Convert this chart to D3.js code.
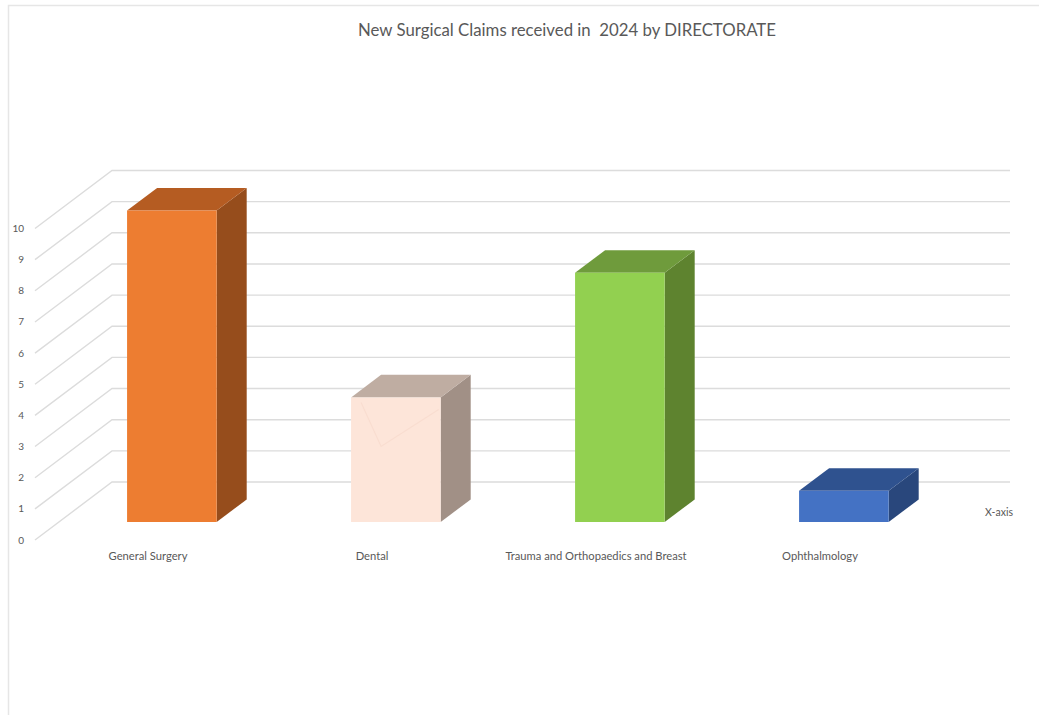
<!DOCTYPE html>
<html>
<head>
<meta charset="utf-8">
<script src="https://cdn.jsdelivr.net/npm/d3@7"></script>
<style>
  html, body { margin: 0; padding: 0; background: #fff; }
  svg { display: block; }
  text { font-family: Lato, "Liberation Sans", sans-serif; fill: #595959; }
</style>
</head>
<body>
<svg id="chart" width="1039" height="715"></svg>
<script>
// Claims per directorate
const categories = ["General Surgery", "Dental", "Trauma and Orthopaedics and Breast", "Ophthalmology"];
const claims = [10, 4, 8, 1];
const yTicks = [0, 1, 2, 3, 4, 5, 6, 7, 8, 9, 10];
const title = "New Surgical Claims received in\u00a0 2024 by DIRECTORATE";
const xAxisLabel = "X-axis";

// colours per bar: front, top, side
const barFront = ["#ED7D31", "#FDE5D9", "#92D050", "#4472C4"];
const barTop   = ["#B55C22", "#BFADA2", "#6F9B3C", "#2F528F"];
const barSide  = ["#964D1C", "#A19086", "#5E832F", "#29477C"];

const W = 1039, H = 715;
const svg = d3.select("#chart");

// frame
svg.append("path")
  .attr("d", `M8.5,${H} V5.5 H${W}`)
  .attr("fill", "none").attr("stroke", "#e6e6e6").attr("stroke-width", 1.5);

// oblique projection: depth offset for z in [0,1]
const DX = 77, DY = -58;
const y = d3.scaleLinear().domain([0, 10]).range([540, 228.5]);
const x = d3.scaleBand().domain(categories).range([36, 932])
  .paddingInner(0.6).paddingOuter(0.3);
const proj = (px, v, z) => [px + z * DX, y(v) + z * DY];

// left wall lines and back wall gridlines
const grid = svg.append("g").attr("fill", "none").attr("stroke", "#dcdcdc").attr("stroke-width", 1.4);
yTicks.forEach(v => {
  const [fx, fy] = [35, y(v)];
  const [bx, by] = proj(35, v, 1);
  grid.append("path").attr("d", `M${fx},${fy} L${bx},${by} L${1010},${by}`);
});

// y tick labels
svg.append("g").selectAll("text").data(yTicks).join("text")
  .attr("x", 24).attr("y", d => y(d))
  .attr("dy", "0.35em").attr("text-anchor", "end")
  .attr("font-size", 10).text(d => d);

// 3D bars
const z0 = 0.31, z1 = 0.70;
const bars = svg.append("g");
categories.forEach((c, i) => {
  const v = claims[i];
  const xl = x(c), xr = x(c) + x.bandwidth();
  const fl0 = proj(xl, 0, z0), fr0 = proj(xr, 0, z0);
  const flt = proj(xl, v, z0), frt = proj(xr, v, z0);
  const blt = proj(xl, v, z1), brt = proj(xr, v, z1), br0 = proj(xr, 0, z1);
  const g = bars.append("g");
  g.append("polygon").attr("points", [frt, brt, br0, fr0].join(" ")).attr("fill", barSide[i]);
  g.append("polygon").attr("points", [flt, blt, brt, frt].join(" ")).attr("fill", barTop[i]);
  g.append("polygon").attr("points", [fl0, flt, frt, fr0].join(" ")).attr("fill", barFront[i]);
  if (c === "Dental") {
    // faint inner edge showing through the pale front face
    const a = [flt[0] + 10, flt[1] + 5];
    const m = [flt[0] + 30, flt[1] + 49];
    const b = [frt[0] - 2, frt[1] + 12];
    g.append("polyline").attr("points", [a, m, b].join(" "))
      .attr("fill", "none").attr("stroke", "#F9DDD0").attr("stroke-width", 1.2);
  }
});

// category labels (front plane)
svg.append("g").selectAll("text").data(categories).join("text")
  .attr("x", d => x(d) + x.bandwidth() / 2).attr("y", 556)
  .attr("dy", "0.35em").attr("text-anchor", "middle")
  .attr("font-size", 11.2).text(d => d);

// axis title
svg.append("text").attr("x", 999).attr("y", 512).attr("dy", "0.35em")
  .attr("text-anchor", "middle").attr("font-size", 10.5).text(xAxisLabel);

// chart title
svg.append("text").attr("x", 567).attr("y", 30).attr("dy", "0.35em")
  .attr("text-anchor", "middle").attr("font-size", 16.8).text(title);
</script>
</body>
</html>
